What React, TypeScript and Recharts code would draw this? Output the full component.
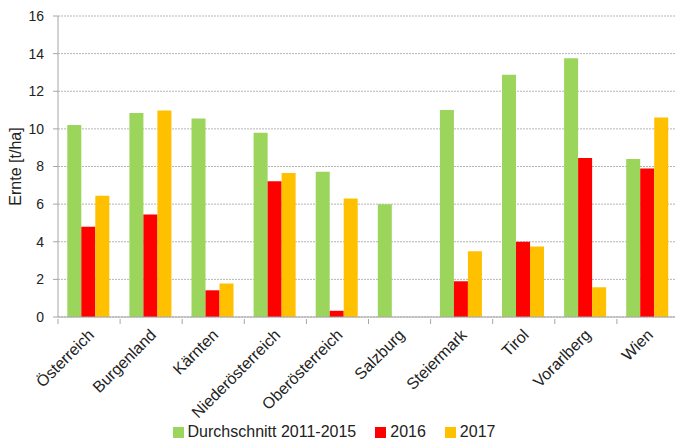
import { BarChart, Bar, XAxis, YAxis, CartesianGrid, Legend } from "recharts";

const categories = [
  "Österreich",
  "Burgenland",
  "Kärnten",
  "Niederösterreich",
  "Oberösterreich",
  "Salzburg",
  "Steiermark",
  "Tirol",
  "Vorarlberg",
  "Wien",
];
const avg20112015 = [10.2, 10.85, 10.55, 9.8, 7.72, 6.0, 11.0, 12.88, 13.75, 8.4];
const y2016 = [4.8, 5.45, 1.42, 7.22, 0.33, null, 1.9, 4.0, 8.45, 7.9];
const y2017 = [6.45, 10.98, 1.78, 7.65, 6.3, null, 3.5, 3.75, 1.58, 10.6];
const yTicks = [0, 2, 4, 6, 8, 10, 12, 14, 16];

const series = [
  { key: "avg", name: "Durchschnitt 2011-2015", color: "#9BD55B" },
  { key: "y2016", name: "2016", color: "#FF0000" },
  { key: "y2017", name: "2017", color: "#FFC000" },
];

const data = categories.map((name, i) => ({
  name,
  avg: avg20112015[i],
  y2016: y2016[i],
  y2017: y2017[i],
}));

const CHART_W = 679;
const CHART_H = 443;
const Y_W = 58;
const BAND = (CHART_W - Y_W) / categories.length;
const FONT = "'Liberation Sans', Arial, sans-serif";
const AXIS = "#A6A6A6";

function XTick(props: any) {
  const { x, y, payload, index } = props;
  const left = x - BAND / 2;
  return (
    <g>
      <line x1={left} y1={y} x2={left} y2={y + 5} stroke={AXIS} />
      {index === categories.length - 1 && (
        <line x1={x + BAND / 2} y1={y} x2={x + BAND / 2} y2={y + 5} stroke={AXIS} />
      )}
      <g transform={`translate(${x + 6}, ${y + 17}) rotate(-45)`}>
        <text x={0} y={0} textAnchor="end" fontSize={16} fill="#222" fontFamily={FONT}>
          {payload.value}
        </text>
      </g>
    </g>
  );
}

function LegendContent() {
  return (
    <div
      style={{
        display: "flex",
        justifyContent: "center",
        alignItems: "center",
        height: 30,
        paddingTop: 4,
        paddingLeft: 8,
        fontFamily: FONT,
        fontSize: 16,
        color: "#222",
      }}
    >
      {series.map((s) => (
        <div key={s.key} style={{ display: "flex", alignItems: "center", marginRight: 19 }}>
          <span style={{ width: 11, height: 11, background: s.color, marginRight: 4 }} />
          <span>{s.name}</span>
        </div>
      ))}
    </div>
  );
}

export default function App() {
  return (
    <div
      style={{
        position: "absolute",
        left: 0,
        top: 0,
        width: 675,
        height: CHART_H,
        overflow: "hidden",
        background: "#fff",
      }}
    >
      <BarChart
        width={CHART_W}
        height={CHART_H}
        data={data}
        margin={{ top: 16, right: 0, left: 0, bottom: 0 }}
        barCategoryGap="15%"
        barGap={0}
      >
        <CartesianGrid vertical={false} stroke="#B5B5B5" strokeDasharray="2 1" />
        <XAxis
          dataKey="name"
          interval={0}
          height={96}
          tickLine={false}
          tickSize={0}
          stroke={AXIS}
          tick={<XTick />}
        />
        <YAxis
          width={Y_W}
          domain={[0, 16]}
          ticks={yTicks}
          interval={0}
          tickSize={5}
          tickMargin={9}
          stroke={AXIS}
          tick={{ fontSize: 14, fill: "#222", fontFamily: FONT }}
          label={{
            value: "Ernte [t/ha]",
            angle: -90,
            position: "insideLeft",
            dx: 10,
            style: { fontSize: 16, fill: "#222", fontFamily: FONT, textAnchor: "middle" },
          }}
        />
        <Legend verticalAlign="bottom" height={30} content={<LegendContent />} />
        {series.map((s) => (
          <Bar key={s.key} dataKey={s.key} name={s.name} fill={s.color} isAnimationActive={false} />
        ))}
      </BarChart>
    </div>
  );
}
